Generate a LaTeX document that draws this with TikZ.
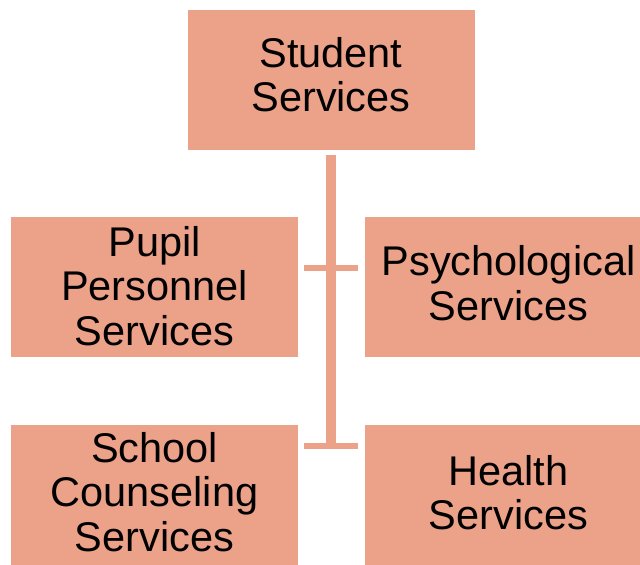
\documentclass[tikz,border=0pt]{standalone}
\usepackage{fontspec}
\setmainfont{Liberation Sans}
\usepackage{xcolor}
\usepackage{tikz}

\definecolor{salmon}{HTML}{ECA189}

\tikzset{
    box/.style={fill=salmon, minimum width=287pt, minimum height=140pt, inner sep=0pt,
        align=center, text depth=0pt, font=\fontsize{41.5}{44.4}\selectfont},
    trunk/.style={draw=salmon, line width=10pt},
    bar/.style={draw=salmon, line width=6pt}
}

\begin{document}
\begin{tikzpicture}[x=1pt, y=-1pt]
    \useasboundingbox (0,0) rectangle (640,565);

    % Boxes
    \node[box, text height=63.4pt] (top) at (331,80) {Student\\Services};
    \node[box, text height=116pt] (pps) at (154.5,287) {Pupil\\Personnel\\Services};
    \node[box, text height=66pt] (psy) at (508.5,287) {Psychological\\Services};
    \node[box, text height=112.6pt] (scs) at (154.5,495) {School\\Counseling\\Services};
    \node[box, text height=68.8pt] (hs) at (508.5,495) {Health\\Services};

    % Hubs on the trunk
    \coordinate (hub1) at (331,268);
    \coordinate (hub2) at (331,445.5);
    \coordinate (foot) at (331,448);

    % Trunk from the top box down
    \draw[trunk] ([yshift=-5pt]top.south) -- (foot);

    % Cross bars
    \draw[bar] ([xshift=6pt]pps.east |- hub1) -- ([xshift=-7pt]psy.west |- hub1);
    \draw[bar] ([xshift=6pt]scs.east |- hub2) -- ([xshift=-7pt]hs.west |- hub2);
\end{tikzpicture}
\end{document}
